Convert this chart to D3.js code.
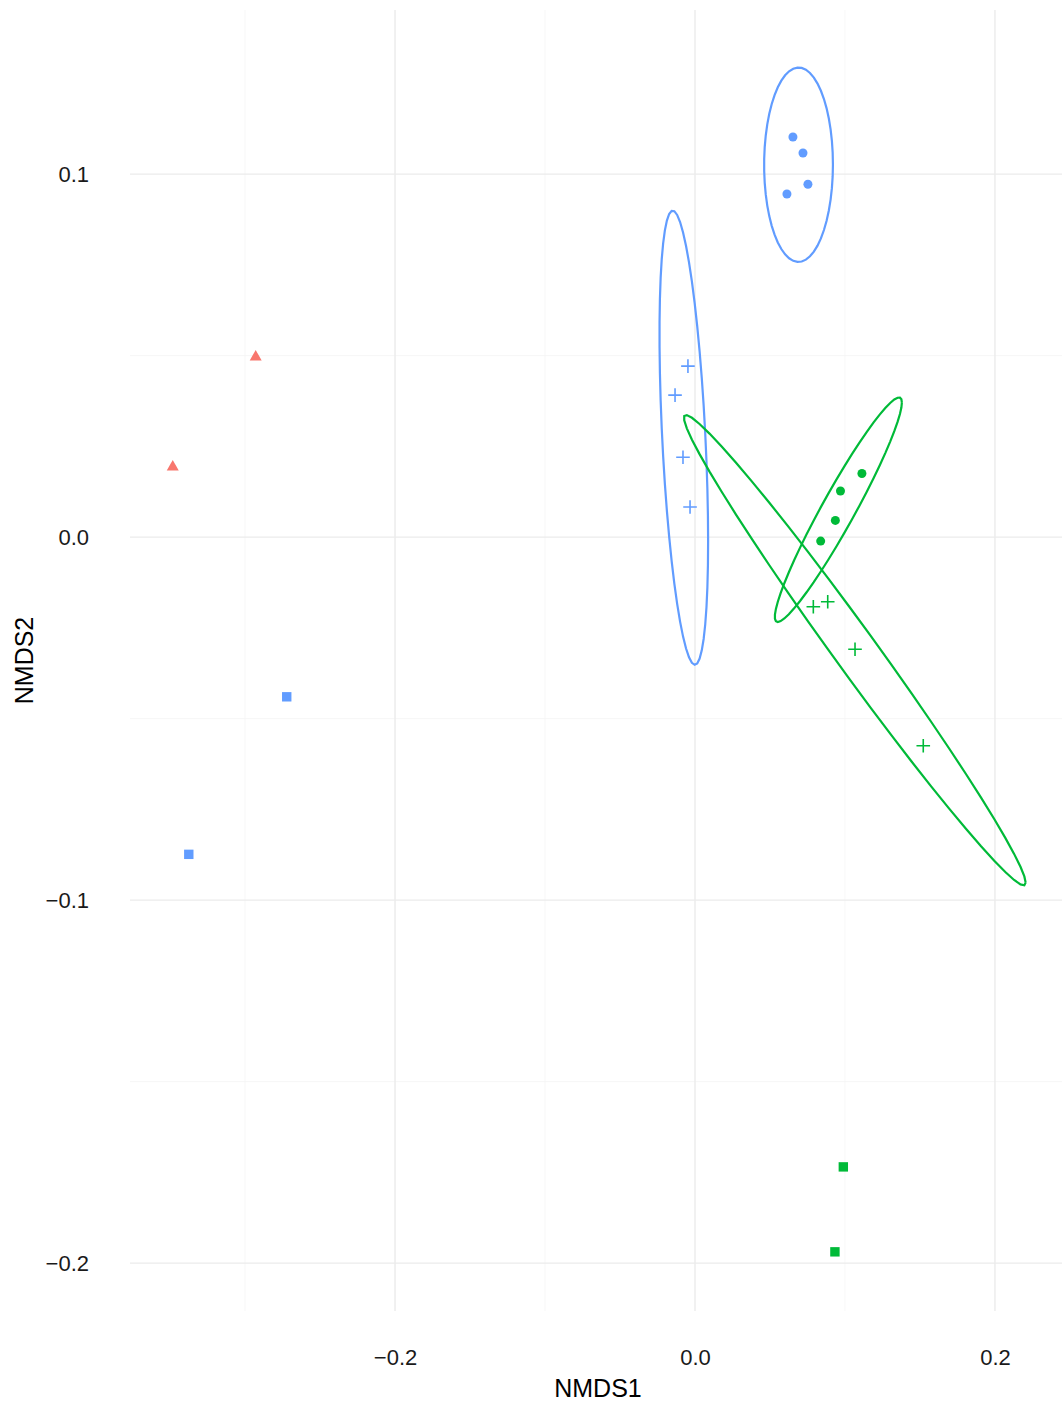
<!DOCTYPE html>
<html>
<head>
<meta charset="utf-8">
<script src="https://cdn.jsdelivr.net/npm/d3@7"></script>
<style>
  html, body { margin: 0; padding: 0; background: #ffffff; }
  svg { display: block; }
  text { font-family: "Liberation Sans", Arial, Helvetica, sans-serif; }
</style>
</head>
<body>
<svg id="chart" width="1062" height="1402"></svg>
<script>
// NMDS ordination scores, one entry per sample
const nmds1 = [
  0.0653, 0.0720, 0.0753, 0.0613,        // group C, circle
 -0.0047, -0.0133, -0.0080, -0.0033,     // group C, plus
 -0.2722, -0.3375,                       // group C, square
  0.1113, 0.0970, 0.0936, 0.0838,        // group B, circle
  0.0789, 0.0885, 0.1067, 0.1522,        // group B, plus
  0.0989, 0.0933,                        // group B, square
 -0.2929, -0.3482                        // group A, triangle
];
const nmds2 = [
  0.1102, 0.1058, 0.0972, 0.0945,
  0.0471, 0.0391, 0.0220, 0.0083,
 -0.0440, -0.0874,
  0.0175, 0.0127, 0.0046, -0.0011,
 -0.0192, -0.0178, -0.0309, -0.0575,
 -0.1735, -0.1969,
  0.0501, 0.0198
];
const colourGroup = [
  "C","C","C","C", "C","C","C","C", "C","C",
  "B","B","B","B", "B","B","B","B", "B","B",
  "A","A"
];
const shapeGroup = [
  "circle","circle","circle","circle",
  "plus","plus","plus","plus",
  "square","square",
  "circle","circle","circle","circle",
  "plus","plus","plus","plus",
  "square","square",
  "triangle","triangle"
];

const colourLevels = ["A", "B", "C"];
const colourValues = ["#F8766D", "#00BA38", "#619CFF"];

// axis limits and ticks
const xLimits = [-0.3767, 0.2447];
const yLimits = [-0.2132, 0.1452];
const xMajor = [-0.2, 0.0, 0.2];
const xMinor = [-0.3, -0.1, 0.1];
const yMajor = [0.1, 0.0, -0.1, -0.2];
const yMinor = [0.05, -0.05, -0.15];
const xTickLabels = ["\u22120.2", "0.0", "0.2"];
const yTickLabels = ["0.1", "0.0", "\u22120.1", "\u22120.2"];

const svg = d3.select("#chart");
const panel = { left: 130, right: 1062, top: 10, bottom: 1311 };

const x = d3.scaleLinear().domain(xLimits).range([panel.left, panel.right]);
const y = d3.scaleLinear().domain(yLimits).range([panel.bottom, panel.top]);
const colour = d3.scaleOrdinal().domain(colourLevels).range(colourValues);

svg.append("rect").attr("width", 1062).attr("height", 1402).attr("fill", "#ffffff");

// grid lines
const grid = svg.append("g");
grid.selectAll(".xminor").data(xMinor).join("line")
  .attr("x1", d => x(d)).attr("x2", d => x(d))
  .attr("y1", panel.top).attr("y2", panel.bottom)
  .attr("stroke", "#f5f5f5").attr("stroke-width", 0.8);
grid.selectAll(".yminor").data(yMinor).join("line")
  .attr("y1", d => y(d)).attr("y2", d => y(d))
  .attr("x1", panel.left).attr("x2", panel.right)
  .attr("stroke", "#f5f5f5").attr("stroke-width", 0.8);
grid.selectAll(".xmajor").data(xMajor).join("line")
  .attr("x1", d => x(d)).attr("x2", d => x(d))
  .attr("y1", panel.top).attr("y2", panel.bottom)
  .attr("stroke", "#ebebeb").attr("stroke-width", 1.4);
grid.selectAll(".ymajor").data(yMajor).join("line")
  .attr("y1", d => y(d)).attr("y2", d => y(d))
  .attr("x1", panel.left).attr("x2", panel.right)
  .attr("stroke", "#ebebeb").attr("stroke-width", 1.4);

// axes built with d3 axis generators, domain lines and tick marks hidden
const xAxis = d3.axisBottom(x).tickValues(xMajor)
  .tickFormat((d, i) => xTickLabels[i]).tickSize(0).tickPadding(38);
const yAxis = d3.axisLeft(y).tickValues(yMajor)
  .tickFormat((d, i) => yTickLabels[i]).tickSize(0).tickPadding(41);

const gx = svg.append("g").attr("transform", `translate(0,${panel.bottom})`).call(xAxis);
const gy = svg.append("g").attr("transform", `translate(${panel.left},0)`).call(yAxis);
[gx, gy].forEach(g => {
  g.select(".domain").remove();
  g.selectAll("text")
    .attr("font-family", "'Liberation Sans', Arial, sans-serif")
    .attr("font-size", 22).attr("fill", "#1a1a1a");
});

svg.append("text")
  .attr("x", (panel.left + panel.right) / 2 + 2).attr("y", 1397)
  .attr("text-anchor", "middle").attr("font-size", 25).attr("fill", "#000")
  .text("NMDS1");
svg.append("text")
  .attr("transform", `translate(33,${(panel.top + panel.bottom) / 2}) rotate(-90)`)
  .attr("text-anchor", "middle").attr("font-size", 25).attr("fill", "#000")
  .text("NMDS2");

// robust multivariate t covariance (as in MASS::cov.trob, nu = 5)
function covTrob(pts) {
  const n = pts.length, p = 2, nu = 5, tol = 0.01, maxit = 25;
  let loc = [d3.mean(pts, d => d[0]), d3.mean(pts, d => d[1])];
  let w = pts.map(() => 1);
  let X;
  for (let iter = 0; iter < maxit; iter++) {
    const w0 = w.slice();
    X = pts.map(d => [d[0] - loc[0], d[1] - loc[1]]);
    const sw = d3.sum(w);
    let a = 0, b = 0, c = 0;
    X.forEach((v, i) => {
      a += w[i] * v[0] * v[0] / sw;
      b += w[i] * v[0] * v[1] / sw;
      c += w[i] * v[1] * v[1] / sw;
    });
    const det = a * c - b * b;
    const Q = X.map(v => (c * v[0] * v[0] - 2 * b * v[0] * v[1] + a * v[1] * v[1]) / det);
    w = Q.map(q => (nu + p) / (nu + q));
    const sw2 = d3.sum(w);
    loc = [d3.sum(pts, (d, i) => w[i] * d[0]) / sw2, d3.sum(pts, (d, i) => w[i] * d[1]) / sw2];
    if (w.every((v, i) => Math.abs(v - w0[i]) < tol)) break;
  }
  let a = 0, b = 0, c = 0;
  X.forEach((v, i) => {
    a += w[i] * v[0] * v[0] / n;
    b += w[i] * v[0] * v[1] / n;
    c += w[i] * v[1] * v[1] / n;
  });
  return { center: loc, cov: [[a, b], [b, c]] };
}

// F distribution quantile via bisection on the regularized incomplete beta
function betacf(a, b, xv) {
  const MAXIT = 200, EPS = 3e-14, FPMIN = 1e-300;
  let qab = a + b, qap = a + 1, qam = a - 1, c = 1, d = 1 - qab * xv / qap;
  if (Math.abs(d) < FPMIN) d = FPMIN;
  d = 1 / d; let h = d;
  for (let m = 1; m <= MAXIT; m++) {
    const m2 = 2 * m;
    let aa = m * (b - m) * xv / ((qam + m2) * (a + m2));
    d = 1 + aa * d; if (Math.abs(d) < FPMIN) d = FPMIN;
    c = 1 + aa / c; if (Math.abs(c) < FPMIN) c = FPMIN;
    d = 1 / d; h *= d * c;
    aa = -(a + m) * (qab + m) * xv / ((a + m2) * (qap + m2));
    d = 1 + aa * d; if (Math.abs(d) < FPMIN) d = FPMIN;
    c = 1 + aa / c; if (Math.abs(c) < FPMIN) c = FPMIN;
    d = 1 / d; const del = d * c; h *= del;
    if (Math.abs(del - 1) < EPS) break;
  }
  return h;
}
function gammaln(z) {
  const cof = [76.18009172947146, -86.50532032941677, 24.01409824083091,
    -1.231739572450155, 0.1208650973866179e-2, -0.5395239384953e-5];
  let xx = z, yy = z, tmp = xx + 5.5;
  tmp -= (xx + 0.5) * Math.log(tmp);
  let ser = 1.000000000190015;
  for (let j = 0; j < 6; j++) ser += cof[j] / ++yy;
  return -tmp + Math.log(2.5066282746310005 * ser / xx);
}
function ibeta(xv, a, b) {
  if (xv <= 0) return 0; if (xv >= 1) return 1;
  const bt = Math.exp(gammaln(a + b) - gammaln(a) - gammaln(b) + a * Math.log(xv) + b * Math.log(1 - xv));
  return xv < (a + 1) / (a + b + 2) ? bt * betacf(a, b, xv) / a : 1 - bt * betacf(b, a, 1 - xv) / b;
}
function qf(pr, d1, d2) {
  let lo = 0, hi = 1e4;
  for (let i = 0; i < 200; i++) {
    const mid = (lo + hi) / 2;
    const cdf = ibeta(d1 * mid / (d1 * mid + d2), d1 / 2, d2 / 2);
    if (cdf < pr) lo = mid; else hi = mid;
  }
  return (lo + hi) / 2;
}

// 95% t-based confidence ellipse per colour x shape group
function ellipsePath(pts, level = 0.95, segments = 51) {
  const { center, cov } = covTrob(pts);
  const r11 = Math.sqrt(cov[0][0]);
  const r12 = cov[0][1] / r11;
  const r22 = Math.sqrt(cov[1][1] - r12 * r12);
  const radius = Math.sqrt(2 * qf(level, 2, pts.length - 1));
  const out = [];
  for (let k = 0; k <= segments; k++) {
    const t = k * 2 * Math.PI / segments;
    const cs = Math.cos(t), sn = Math.sin(t);
    out.push([center[0] + radius * cs * r11, center[1] + radius * (cs * r12 + sn * r22)]);
  }
  return out;
}

const samples = nmds1.map((v, i) => ({ x: v, y: nmds2[i], col: colourGroup[i], shape: shapeGroup[i] }));
const groups = d3.groups(samples, d => d.col + "|" + d.shape);
const line = d3.line().x(d => x(d[0])).y(d => y(d[1]));

const ellG = svg.append("g");
groups.forEach(([key, members]) => {
  if (members.length < 3) return;
  const pts = members.map(d => [d.x, d.y]);
  ellG.append("path")
    .attr("d", line(ellipsePath(pts)))
    .attr("fill", "none")
    .attr("stroke", colour(members[0].col))
    .attr("stroke-width", 2.2);
});

// sample points
const ptG = svg.append("g");
samples.forEach(d => {
  const cx = x(d.x), cy = y(d.y), fill = colour(d.col);
  if (d.shape === "circle") {
    ptG.append("circle").attr("cx", cx).attr("cy", cy).attr("r", 4.5).attr("fill", fill);
  } else if (d.shape === "square") {
    ptG.append("rect").attr("x", cx - 4.7).attr("y", cy - 4.7)
      .attr("width", 9.4).attr("height", 9.4).attr("fill", fill);
  } else if (d.shape === "triangle") {
    const s = 12, h = s * Math.sqrt(3) / 2;
    ptG.append("path")
      .attr("d", `M${cx},${cy - h / 2}L${cx + s / 2},${cy + h / 2}L${cx - s / 2},${cy + h / 2}Z`)
      .attr("fill", fill);
  } else if (d.shape === "plus") {
    const a = 6.8;
    ptG.append("path")
      .attr("d", `M${cx - a},${cy}H${cx + a}M${cx},${cy - a}V${cy + a}`)
      .attr("stroke", fill).attr("stroke-width", 1.6).attr("fill", "none");
  }
});
</script>
</body>
</html>
